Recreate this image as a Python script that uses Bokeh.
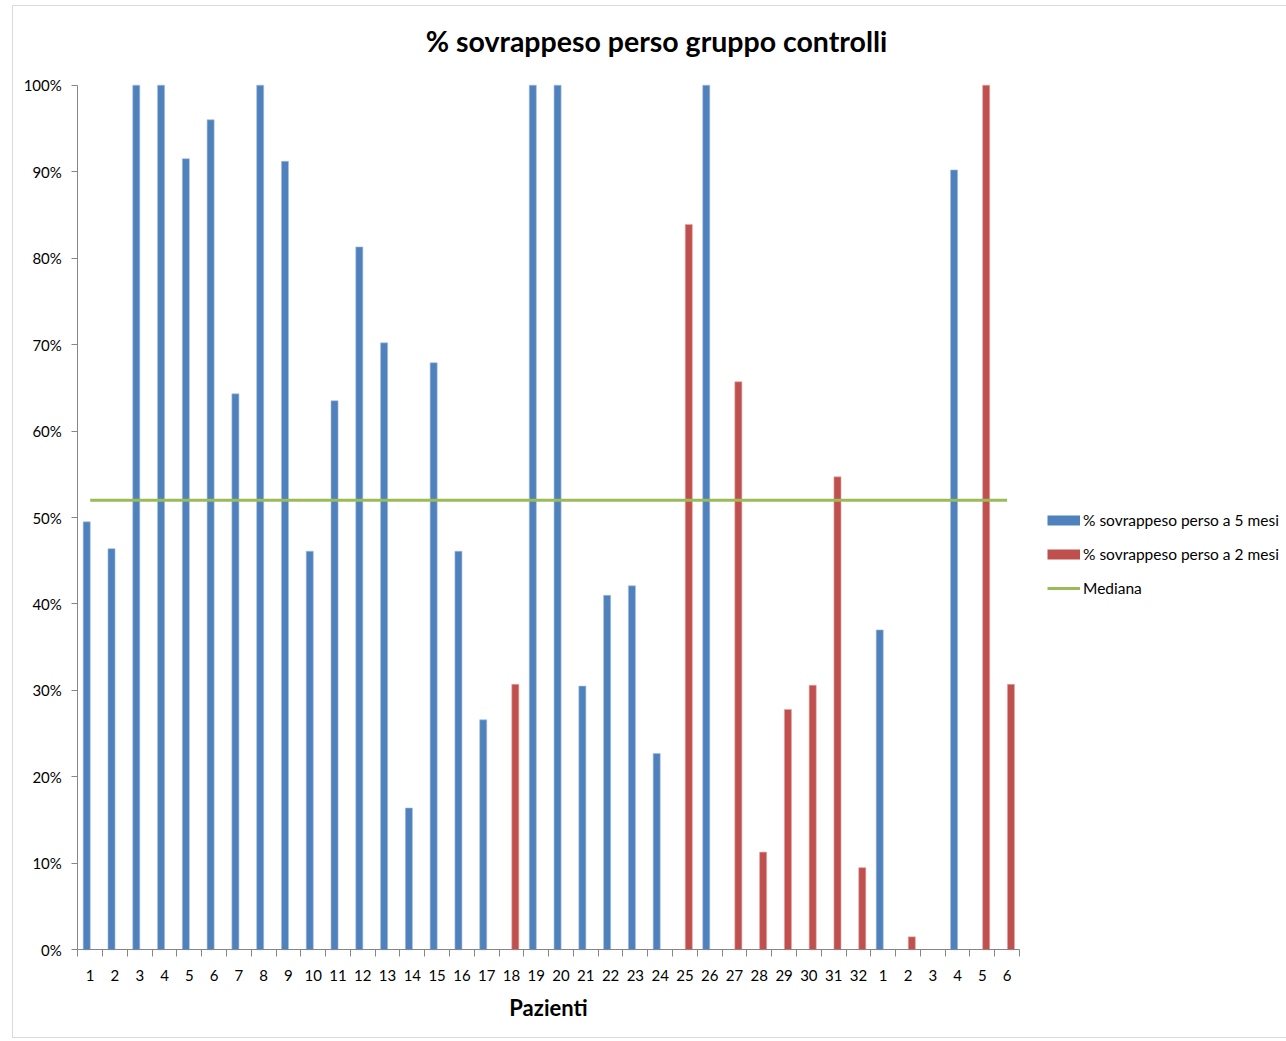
import numpy as np
from bokeh.plotting import figure
from bokeh.models import (Range1d, FixedTicker, Legend, LegendItem, Label,
                          BoxAnnotation, LinearAxis)
from bokeh.embed import file_html
from bokeh.resources import INLINE

# ---------------- data ----------------
patients = ["1", "2", "3", "4", "5", "6", "7", "8", "9", "10",
            "11", "12", "13", "14", "15", "16", "17", "18", "19", "20",
            "21", "22", "23", "24", "25", "26", "27", "28", "29", "30",
            "31", "32", "1", "2", "3", "4", "5", "6"]

loss_5_months = [49.5, 46.4, 100, 100, 91.5, 96.0, 64.3, 100, 91.2, 46.1,
                 63.5, 81.3, 70.2, 16.4, 67.9, 46.1, 26.6, None, 100, 100,
                 30.5, 41.0, 42.1, 22.7, None, 100, None, None, None, None,
                 None, None, 37.0, None, None, 90.2, None, None]

loss_2_months = [None, None, None, None, None, None, None, None, None, None,
                 None, None, None, None, None, None, None, 30.7, None, None,
                 None, None, None, None, 83.9, None, 65.7, 11.3, 27.8, 30.6,
                 54.7, 9.5, None, 1.5, None, None, 100, 30.7]

median_value = 52.0

y_ticks = [0, 10, 20, 30, 40, 50, 60, 70, 80, 90, 100]
y_tick_labels = ["0%", "10%", "20%", "30%", "40%", "50%", "60%", "70%", "80%", "90%", "100%"]

series_names = ["% sovrappeso perso a 5 mesi", "% sovrappeso perso a 2 mesi", "Mediana"]
title_text = "% sovrappeso perso gruppo controlli"
x_title = "Pazienti"

# ---------------- styles / layout ----------------
BLUE = "#4F81BD"
RED = "#C0504D"
GREEN = "#9BBB59"
AXIS = "#868686"
FONT = "Lato"

W, H = 1286, 1040
n = len(patients)
x = np.arange(1, n + 1, dtype=float)
v5 = np.array(loss_5_months, dtype=float)
v2 = np.array(loss_2_months, dtype=float)

# plot area in pixels (the frame covers the whole canvas; axes are placed inside)
AX_LEFT, AX_RIGHT, AX_TOP, AX_BOTTOM = 77.3, 1019.0, 84.7, 949.3
slot = (AX_RIGHT - AX_LEFT) / n
per = (AX_BOTTOM - AX_TOP) / 100.0
x_start = 0.5 - AX_LEFT / slot
x_end = x_start + W / slot
y_end = AX_BOTTOM / per
y_start = y_end - H / per

def px_x(px):
    return x_start + px / slot

def px_y(py):
    return y_end - py / per

p = figure(width=W, height=H, output_backend="svg", toolbar_location=None,
           x_range=Range1d(x_start, x_end), y_range=Range1d(y_start, y_end),
           x_axis_location=None, y_axis_location=None,
           min_border=0, min_border_left=0, min_border_right=0,
           min_border_top=0, min_border_bottom=0)
p.outline_line_color = None
p.background_fill_color = "white"
p.border_fill_color = "white"
p.grid.visible = False

bar_w = 0.285
p.vbar(x=x - 0.14, top=v5, width=bar_w, bottom=0, fill_color=BLUE,
       line_color="#A7C0DE", line_width=0.6)
p.vbar(x=x + 0.155, top=v2, width=bar_w, bottom=0, fill_color=RED,
       line_color="#E0A8A6", line_width=0.6)

med = p.line(x=[x[0], x[-1]], y=[median_value, median_value], line_color=GREEN, line_width=3)

# legend proxies (thick lines look like Excel's legend swatches); NaN point = nothing drawn
lb = p.line(x=[np.nan], y=[np.nan], line_color=BLUE, line_width=10, line_cap="butt")
lr = p.line(x=[np.nan], y=[np.nan], line_color=RED, line_width=10, line_cap="butt")

# axes
xa = LinearAxis(fixed_location=0, bounds=(0.5, n + 0.5))
xa.ticker = FixedTicker(ticks=list(x), minor_ticks=list(np.arange(0.5, n + 1, 1.0)))
xa.major_label_overrides = {int(i): lab for i, lab in zip(x, patients)}
xa.major_tick_line_color = None
xa.major_tick_out = 0
xa.major_tick_in = 0
xa.minor_tick_line_color = AXIS
xa.minor_tick_out = 7
xa.minor_tick_in = 0
xa.axis_line_color = AXIS
xa.major_label_standoff = 13
xa.major_label_text_font = FONT
xa.major_label_text_font_size = "15px"
xa.major_label_text_color = "black"
xa.axis_label = x_title
xa.axis_label_text_font = FONT
xa.axis_label_text_font_style = "bold"
xa.axis_label_text_font_size = "22px"
xa.axis_label_text_color = "black"
xa.axis_label_standoff = 10
p.add_layout(xa, "below")

ya = LinearAxis(fixed_location=0.5, bounds=(0, 100))
ya.ticker = FixedTicker(ticks=y_ticks, minor_ticks=[])
ya.major_label_overrides = {t: lab for t, lab in zip(y_ticks, y_tick_labels)}
ya.major_tick_line_color = AXIS
ya.major_tick_out = 6
ya.major_tick_in = 0
ya.minor_tick_line_color = None
ya.axis_line_color = AXIS
ya.major_label_standoff = 10
ya.major_label_text_font = FONT
ya.major_label_text_font_size = "15px"
ya.major_label_text_color = "black"
p.add_layout(ya, "left")

# title
p.add_layout(Label(x=px_x(656), y=px_y(40), text=title_text, text_align="center",
                   text_baseline="middle", text_font=FONT, text_font_style="bold",
                   text_font_size="28.5px", text_color="black"))

# legend
legend = Legend(items=[LegendItem(label=series_names[0], renderers=[lb]),
                       LegendItem(label=series_names[1], renderers=[lr]),
                       LegendItem(label=series_names[2], renderers=[med])],
                location=(1047, H - 598), orientation="vertical",
                glyph_width=33, glyph_height=20, label_height=20, spacing=14,
                padding=0, margin=0, label_standoff=3,
                border_line_color=None, background_fill_alpha=0,
                label_text_font=FONT, label_text_font_size="15.5px",
                label_text_color="black")
p.add_layout(legend, "center")

# outer chart border
p.add_layout(BoxAnnotation(left=px_x(12), right=px_x(W + 20), top=px_y(5), bottom=px_y(1037),
                           fill_alpha=0, line_color=AXIS, line_width=1))

open("out.html", "w").write(file_html(p, INLINE))
